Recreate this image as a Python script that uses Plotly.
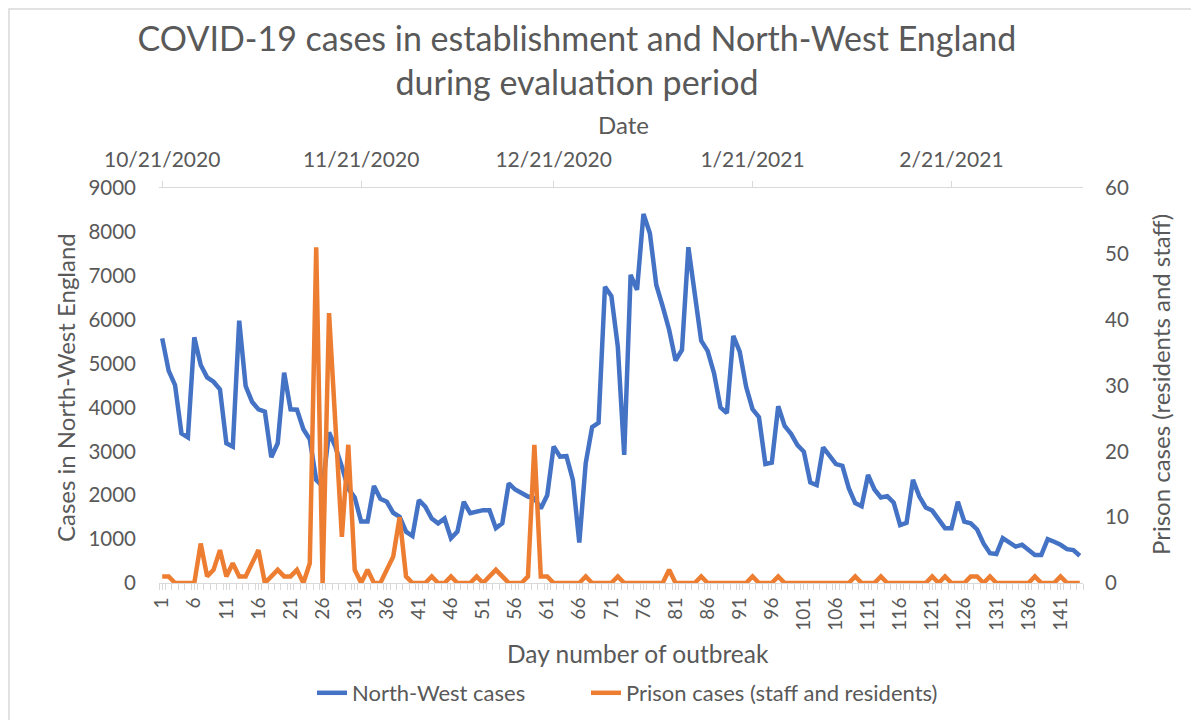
import datetime as dt
import plotly.graph_objects as go

# ---------------- data ----------------
days = list(range(1, 145))

north_west_cases = [
    5575, 4838, 4511, 3410, 3319, 5598, 4967, 4686, 4587, 4413,
    3183, 3106, 5977, 4489, 4131, 3957, 3903, 2864, 3183, 4792,
    3957, 3950, 3502, 3274, 2350, 2200, 3430, 3100, 2650, 2150,
    1950, 1400, 1400, 2210, 1920, 1850, 1600, 1510, 1170, 1070,
    1890, 1740, 1470, 1360, 1470, 1020, 1170, 1850, 1590, 1625,
    1660, 1660, 1250, 1360, 2270, 2130, 2040, 1970, 1930, 1700,
    2000, 3110, 2880, 2890, 2350, 920, 2730, 3550, 3650, 6750,
    6540, 5390, 2920, 7020, 6680, 8410, 7970, 6790, 6300, 5770,
    5070, 5310, 7650, 6600, 5520, 5290, 4780, 4000, 3870, 5630,
    5270, 4470, 3960, 3780, 2710, 2740, 4030, 3580, 3400, 3140,
    2990, 2290, 2230, 3090, 2880, 2710, 2670, 2160, 1820, 1750,
    2460, 2130, 1950, 1980, 1830, 1320, 1370, 2350, 1970, 1720,
    1650, 1470, 1250, 1250, 1850, 1400, 1360, 1220, 900, 680,
    660, 1020, 920, 830, 870, 750, 640, 640, 1000, 940,
    870, 770, 750, 620,
]

prison_cases = [
    1, 1, 0, 0, 0, 0, 6, 1, 2, 5,
    1, 3, 1, 1, 3, 5, 0, 1, 2, 1,
    1, 2, 0, 3, 51, 0, 41, 24, 7, 21,
    2, 0, 2, 0, 0, 2, 4, 10, 1, 0,
    0, 0, 1, 0, 0, 1, 0, 0, 0, 1,
    0, 1, 2, 1, 0, 0, 0, 1, 21, 1,
    1, 0, 0, 0, 0, 0, 1, 0, 0, 0,
    0, 1, 0, 0, 0, 0, 0, 0, 0, 2,
    0, 0, 0, 0, 1, 0, 0, 0, 0, 0,
    0, 0, 1, 0, 0, 0, 1, 0, 0, 0,
    0, 0, 0, 0, 0, 0, 0, 0, 1, 0,
    0, 0, 1, 0, 0, 0, 0, 0, 0, 0,
    1, 0, 1, 0, 0, 0, 1, 1, 0, 1,
    0, 0, 0, 0, 0, 0, 1, 0, 0, 0,
    1, 0, 0, 0,
]

day_tick_labels = [str(d) for d in range(1, 145, 5)]
date_tick_labels = ["10/21/2020", "11/21/2020", "12/21/2020", "1/21/2021", "2/21/2021"]
start_date = dt.datetime(2020, 10, 21)

# ---------------- derived ----------------
dates = [start_date + dt.timedelta(days=d - 1) for d in days]
date_ticks = [dt.datetime.strptime(s, "%m/%d/%Y") for s in date_tick_labels]
day_range = [0.5, 144.5]
date_range = [start_date + dt.timedelta(days=day_range[0] - 1),
              start_date + dt.timedelta(days=day_range[1] - 1)]

BLUE = "#4472C4"
ORANGE = "#ED7D31"
GREY_TXT = "#595959"
GREY_LINE = "#D9D9D9"
FONT = "Lato, 'Open Sans', sans-serif"

fig = go.Figure()

fig.add_trace(go.Scatter(
    x=days, y=north_west_cases, mode="lines", name="North-West cases",
    line=dict(color=BLUE, width=4.5), xaxis="x", yaxis="y", legend="legend",
))
fig.add_trace(go.Scatter(
    x=days, y=prison_cases, mode="lines", name="Prison cases (staff and residents)",
    line=dict(color=ORANGE, width=4.5), xaxis="x", yaxis="y2", legend="legend2",
))
# invisible trace carrying the date axis
fig.add_trace(go.Scatter(
    x=dates, y=north_west_cases, mode="lines", xaxis="x2", yaxis="y",
    line=dict(color="rgba(0,0,0,0)", width=0), showlegend=False, hoverinfo="skip",
))

# page body margin offset (px) and plot area in page pixels
OFF = 8
W, H = 1199 - OFF, 720 - OFF
L, R, T, B = 159 - OFF, 1083 - OFF, 188 - OFF, 583 - OFF
pw, ph = R - L, B - T

def px(x):  # page x -> paper
    return (x - OFF - L) / pw

def py(y):  # page y -> paper
    return (B - (y - OFF)) / ph

legend_style = dict(
    orientation="h", xanchor="left", yanchor="middle", y=py(693),
    font=dict(size=22, color=GREY_TXT), bgcolor="rgba(0,0,0,0)",
)

fig.update_layout(
    width=W, height=H,
    margin=dict(l=L, r=W - R, t=T, b=H - B, autoexpand=False),
    paper_bgcolor="white", plot_bgcolor="white",
    font=dict(family=FONT, color=GREY_TXT, size=18),
    title=dict(
        text="COVID-19 cases in establishment and North-West England<br>during evaluation period",
        x=(577 - OFF) / W, xanchor="center", xref="container",
        y=1 - 43 / H, yanchor="middle", yref="container",
        font=dict(size=34, color=GREY_TXT, family=FONT),
    ),
    xaxis=dict(
        range=day_range, showgrid=False, zeroline=False, automargin=False,
        showline=True, linecolor=GREY_LINE, linewidth=1,
        tickmode="array", tickvals=list(range(1, 145, 5)), ticktext=day_tick_labels,
        tickangle=-90, tickfont=dict(size=19, color=GREY_TXT),
        ticks="outside", ticklen=6, tickcolor=GREY_LINE,
        minor=dict(dtick=1, tick0=0.5, ticks="outside", ticklen=6, tickcolor=GREY_LINE),
    ),
    xaxis2=dict(
        type="date", overlaying="x", side="top", anchor="y", automargin=False,
        range=date_range, showgrid=False, zeroline=False,
        showline=True, linecolor=GREY_LINE, linewidth=1,
        tickmode="array", tickvals=date_ticks, ticktext=date_tick_labels,
        ticks="outside", ticklen=6, tickcolor=GREY_LINE,
        tickfont=dict(size=21, color=GREY_TXT), ticklabelstandoff=6,
    ),
    yaxis=dict(
        range=[0, 9000], dtick=1000, showgrid=False, zeroline=False, automargin=False,
        showline=False, ticks="", tickfont=dict(size=20.5, color=GREY_TXT),
        ticklabelstandoff=22,
    ),
    yaxis2=dict(
        range=[0, 60], dtick=10, overlaying="y", side="right", anchor="x", automargin=False,
        showgrid=False, zeroline=False, showline=False, ticks="",
        tickfont=dict(size=20.5, color=GREY_TXT), ticklabelstandoff=21,
    ),
    showlegend=True,
    legend=dict(x=px(312), **legend_style),
    legend2=dict(x=px(586), **legend_style),
    annotations=[
        dict(text="Date", xref="paper", yref="paper", x=px(623), y=py(124),
             showarrow=False, xanchor="center", yanchor="middle",
             font=dict(size=24, color=GREY_TXT)),
        dict(text="Day number of outbreak", xref="paper", yref="paper", x=px(638), y=py(653),
             showarrow=False, xanchor="center", yanchor="middle",
             font=dict(size=24.5, color=GREY_TXT)),
        dict(text="Cases in North-West England", xref="paper", yref="paper", x=px(65), y=py(388),
             showarrow=False, xanchor="center", yanchor="middle", textangle=-90,
             font=dict(size=24, color=GREY_TXT)),
        dict(text="Prison cases (residents and staff)", xref="paper", yref="paper", x=px(1160), y=py(385),
             showarrow=False, xanchor="center", yanchor="middle", textangle=-90,
             font=dict(size=24, color=GREY_TXT)),
    ],
    shapes=[
        dict(type="rect", xref="paper", yref="paper",
             x0=px(OFF + 1), x1=px(1215), y0=py(735), y1=py(OFF + 1),
             line=dict(color=GREY_LINE, width=1.5), fillcolor="rgba(0,0,0,0)", layer="below"),
    ],
)

fig.write_html("out.html")
